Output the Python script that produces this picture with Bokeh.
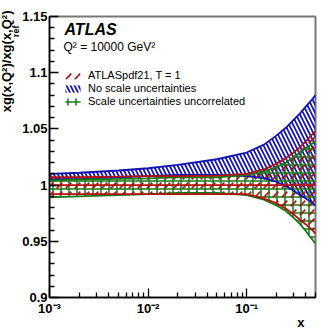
import numpy as np
from math import pi
from bokeh.plotting import figure
from bokeh.models import ColumnDataSource, FixedTicker, Label, Legend, LegendItem, Title
from bokeh.embed import file_html
from bokeh.resources import INLINE

# ---- data ----
x_vals = [0.001, 0.002, 0.005, 0.01, 0.02, 0.05, 0.1, 0.15, 0.2, 0.25, 0.3, 0.35, 0.4, 0.45, 0.5]

red_hi = [1.007, 1.007, 1.0075, 1.008, 1.008, 1.0085, 1.010, 1.014, 1.019, 1.024, 1.029, 1.034, 1.039, 1.044, 1.048]
red_lo = [0.992, 0.992, 0.992, 0.992, 0.992, 0.992, 0.992, 0.988, 0.984, 0.979, 0.974, 0.969, 0.965, 0.961, 0.957]
red_c = [1.0, 1.0, 1.0, 1.0, 1.0, 1.0, 1.0, 1.0, 1.0, 1.0, 1.0, 1.0, 1.0, 1.0, 1.0]

blue_hi = [1.010, 1.011, 1.013, 1.015, 1.018, 1.023, 1.029, 1.036, 1.044, 1.051, 1.058, 1.064, 1.070, 1.075, 1.080]
blue_lo = [1.005, 1.0055, 1.007, 1.008, 1.009, 1.009, 1.008, 1.006, 1.003, 0.999, 0.995, 0.991, 0.988, 0.985, 0.982]

green_hi = [1.004, 1.005, 1.0055, 1.006, 1.007, 1.007, 1.009, 1.012, 1.016, 1.020, 1.025, 1.029, 1.033, 1.036, 1.039]
green_lo = [0.989, 0.990, 0.991, 0.992, 0.993, 0.993, 0.991, 0.987, 0.982, 0.977, 0.971, 0.965, 0.959, 0.953, 0.948]

y_ticks = [0.9, 0.95, 1.0, 1.05, 1.1, 1.15]
y_labels = ["0.9", "0.95", "1", "1.05", "1.1", "1.15"]
y_minor = [0.91, 0.92, 0.93, 0.94, 0.96, 0.97, 0.98, 0.99, 1.01, 1.02, 1.03, 1.04,
           1.06, 1.07, 1.08, 1.09, 1.11, 1.12, 1.13, 1.14]
x_ticks = [0.001, 0.01, 0.1]
x_labels = ["10\u207b\u00b3", "10\u207b\u00b2", "10\u207b\u00b9"]
x_minor = [0.002, 0.003, 0.004, 0.005, 0.006, 0.007, 0.008, 0.009,
           0.02, 0.03, 0.04, 0.05, 0.06, 0.07, 0.08, 0.09,
           0.2, 0.3, 0.4, 0.5]

legend_labels = ["ATLASpdf21, T = 1", "No scale uncertainties", "Scale uncertainties uncorrelated"]

RED = "#b41010"
BLUE = "#1414b4"
GREEN = "#157a15"
FONT = "Liberation Sans"

src = ColumnDataSource(dict(x=x_vals, rh=red_hi, rl=red_lo, rc=red_c,
                            bh=blue_hi, bl=blue_lo, gh=green_hi, gl=green_lo))

p = figure(width=332, height=330, x_axis_type="log", x_range=(0.001, 0.5),
           y_range=(0.9, 1.15), output_backend="svg", toolbar_location=None,
           min_border_left=49, min_border_right=17, min_border_top=16, min_border_bottom=33)
p.xgrid.visible = False
p.ygrid.visible = False
p.outline_line_color = "#777777"
p.outline_line_width = 2

# bands
blue_area = p.varea(x="x", y1="bl", y2="bh", source=src, fill_alpha=0,
                    hatch_pattern="left_diagonal_line", hatch_color=BLUE,
                    hatch_weight=1.8, hatch_scale=8)
green_area = p.varea(x="x", y1="gl", y2="gh", source=src, fill_alpha=0,
                     hatch_pattern="cross", hatch_color=GREEN,
                     hatch_weight=1.5, hatch_scale=8)
red_area = p.varea(x="x", y1="rl", y2="rh", source=src, fill_alpha=0,
                   hatch_pattern="right_diagonal_dash", hatch_color=RED,
                   hatch_weight=1.6, hatch_scale=9)

for col in ("bh", "bl"):
    p.line(x="x", y=col, source=src, line_color=BLUE, line_width=1.8)
for col in ("gh", "gl"):
    p.line(x="x", y=col, source=src, line_color=GREEN, line_width=1.8)
for col in ("rh", "rl", "rc"):
    p.line(x="x", y=col, source=src, line_color=RED, line_width=1.8)

# axes
p.yaxis.ticker = FixedTicker(ticks=y_ticks, minor_ticks=y_minor)
p.yaxis.major_label_overrides = dict(zip(y_ticks, y_labels))
p.xaxis.ticker = FixedTicker(ticks=x_ticks, minor_ticks=x_minor)
p.xaxis.major_label_overrides = dict(zip(x_ticks, x_labels))
for ax in (p.xaxis[0], p.yaxis[0]):
    ax.major_tick_in = 9
    ax.major_tick_out = 0
    ax.minor_tick_in = 5
    ax.minor_tick_out = 0
    ax.axis_line_width = 1.5
    ax.major_tick_line_width = 1.3
    ax.minor_tick_line_width = 1.3
    ax.major_label_text_font = FONT
    ax.major_label_text_font_style = "bold"
    ax.major_label_text_font_size = "13px"
    ax.major_label_text_color = "black"
p.yaxis.major_label_standoff = 2
p.xaxis.major_label_standoff = 3

# y-axis title, as side-panel titles (top-aligned), with subscript part
p.add_layout(Title(text="ref", align="right", offset=9, standoff=-3,
                   text_font=FONT, text_font_style="bold", text_font_size="9px",
                   text_color="black"), "left")
p.add_layout(Title(text="xg(x,Q\u00b2)/xg(x,Q\u00b2)", align="right", offset=-6, standoff=-7,
                   text_font=FONT, text_font_style="bold", text_font_size="13px",
                   text_color="black"), "left")
# x-axis title
p.add_layout(Title(text="x", align="right", vertical_align="top", offset=11, standoff=-8,
                   text_font=FONT, text_font_style="bold", text_font_size="13px",
                   text_color="black"), "below")

# ATLAS texts
p.add_layout(Label(x=15, y=268, x_units="screen", y_units="screen",
                   text="ATLAS", text_font=FONT, text_font_style="bold italic",
                   text_font_size="16px", text_baseline="middle", text_color="black"))
p.add_layout(Label(x=14, y=251, x_units="screen", y_units="screen",
                   text="Q\u00b2 = 10000 GeV\u00b2", text_font=FONT,
                   text_font_size="12px", text_baseline="middle", text_color="black"))

legend = Legend(items=[LegendItem(label=legend_labels[0], renderers=[red_area]),
                       LegendItem(label=legend_labels[1], renderers=[blue_area]),
                       LegendItem(label=legend_labels[2], renderers=[green_area])],
                location=(14, 190), orientation="vertical",
                glyph_width=19, glyph_height=9, label_height=9, spacing=1,
                padding=0, margin=0, label_standoff=6,
                label_text_font=FONT, label_text_font_size="11px", label_text_color="black",
                border_line_alpha=0, background_fill_alpha=0)
p.add_layout(legend)

open("out.html", "w").write(file_html(p, INLINE))
